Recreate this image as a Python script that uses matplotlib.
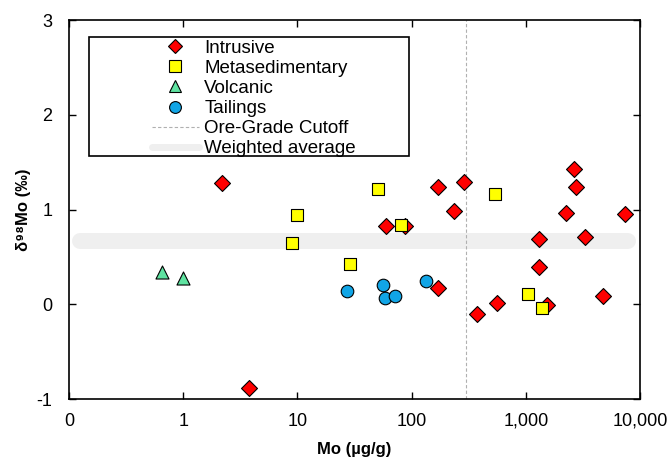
import matplotlib
matplotlib.use("Agg")
import matplotlib.pyplot as plt
from matplotlib.lines import Line2D
from matplotlib.patches import Rectangle
from matplotlib.ticker import FixedLocator, FixedFormatter

plt.rcParams["font.family"] = ["Liberation Sans", "DejaVu Sans"]

# Mo (ug/g) and d98Mo (permil) by rock type
intrusive_mo = [2.2, 172, 286, 233, 60, 87, 172, 374, 557, 1310, 1310, 1540,
                2650, 2740, 2270, 3290, 4770, 7400, 3.8]
intrusive_d98 = [1.28, 1.24, 1.29, 0.98, 0.83, 0.83, 0.17, -0.10, 0.01, 0.69, 0.39, -0.01,
                 1.43, 1.24, 0.96, 0.71, 0.09, 0.95, -0.88]
metased_mo = [9.9, 9.0, 51, 81, 29, 533, 1040, 1400]
metased_d98 = [0.94, 0.65, 1.22, 0.84, 0.43, 1.16, 0.11, -0.04]
volcanic_mo = [0.65, 0.99]
volcanic_d98 = [0.34, 0.28]
tailings_mo = [27, 56, 59, 72, 133]
tailings_d98 = [0.14, 0.20, 0.07, 0.09, 0.25]

ore_cutoff = 300
weighted_avg = 0.67
avg_span = [0.125, 7900]

xticks = [0.1, 1, 10, 100, 1000, 10000]
xtick_labels = ["0", "1", "10", "100", "1,000", "10,000"]
yticks = [-1, 0, 1, 2, 3]


def main() -> None:
    fig = plt.figure(figsize=(6.71, 4.57), dpi=100)
    ax = fig.add_axes([0.1028, 0.1269, 0.851, 0.829])

    ax.plot(avg_span, [weighted_avg, weighted_avg], color="#efefef", lw=11.5,
            solid_capstyle="round", zorder=1)
    ax.axvline(ore_cutoff, color="#b0b0b0", lw=0.8, ls=(0, (3, 2)), zorder=1)

    ax.scatter(intrusive_mo, intrusive_d98, marker="D", s=66, c="#ff0000",
               edgecolors="black", linewidths=0.8, zorder=3)
    ax.scatter(metased_mo, metased_d98, marker="s", s=72, c="#ffff00",
               edgecolors="black", linewidths=0.8, zorder=4)
    ax.scatter(volcanic_mo, volcanic_d98, marker="^", s=88, c="#5fe3a1",
               edgecolors="black", linewidths=0.8, zorder=3)
    ax.scatter(tailings_mo, tailings_d98, marker="o", s=82, c="#11a5e6",
               edgecolors="black", linewidths=0.8, zorder=3)

    ax.set_xscale("log")
    ax.set_xlim(0.1, 10000)
    ax.set_ylim(-1, 3)
    ax.xaxis.set_major_locator(FixedLocator(xticks))
    ax.xaxis.set_major_formatter(FixedFormatter(xtick_labels))
    ax.xaxis.set_minor_locator(FixedLocator([]))
    ax.set_yticks(yticks)
    ax.set_yticklabels([str(v) for v in yticks])

    ax.tick_params(axis="both", which="major", direction="in", length=5, width=1,
                   top=True, right=True, labelsize=13)
    ax.tick_params(axis="x", pad=10)
    ax.tick_params(axis="y", pad=12)
    for sp in ax.spines.values():
        sp.set_linewidth(1.2)

    ax.set_xlabel("Mo (µg/g)", fontsize=12, fontweight="bold", labelpad=9)
    ax.set_ylabel("δ⁹⁸Mo (‰)", fontsize=12, fontweight="bold", labelpad=4)

    # legend box drawn by hand, wider than its content
    ax.add_patch(Rectangle((0.035, 0.641), 0.56, 0.315, transform=ax.transAxes,
                           facecolor="white", edgecolor="black", lw=1.2, zorder=5))
    handles = [
        Line2D([], [], ls="none", marker="D", ms=7.4, mfc="#ff0000", mec="black", mew=0.8),
        Line2D([], [], ls="none", marker="s", ms=8, mfc="#ffff00", mec="black", mew=0.8),
        Line2D([], [], ls="none", marker="^", ms=8, mfc="#5fe3a1", mec="black", mew=0.8),
        Line2D([], [], ls="none", marker="o", ms=8.5, mfc="#11a5e6", mec="black", mew=0.8),
        Line2D([], [], color="#b0b0b0", lw=0.8, ls=(0, (3, 2))),
        Line2D([], [], color="#efefef", lw=5, solid_capstyle="round"),
    ]
    labels = ["Intrusive", "Metasedimentary", "Volcanic", "Tailings",
              "Ore-Grade Cutoff", "Weighted average"]
    leg = ax.legend(handles, labels, loc="upper left", bbox_to_anchor=(0.145, 0.948),
                    frameon=False, fontsize=13.5, handlelength=2.5, handletextpad=0.3,
                    labelspacing=0.155, borderpad=0, borderaxespad=0)
    leg.set_zorder(6)

    fig.savefig("out.png", dpi=100)
    plt.close(fig)


if __name__ == "__main__":
    main()
